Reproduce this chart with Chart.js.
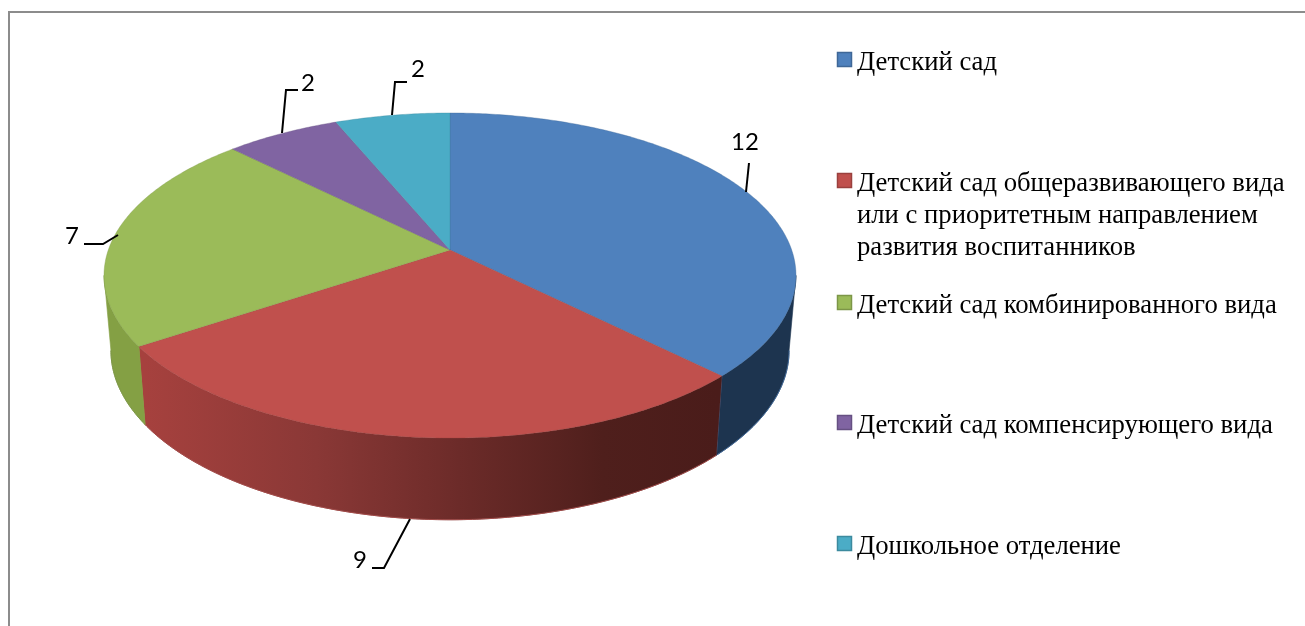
<!DOCTYPE html>
<html><head><meta charset="utf-8">
<style>html,body{margin:0;padding:0;background:#fff}canvas{display:block}</style>
<script src="https://cdn.jsdelivr.net/npm/chart.js@4"></script>
</head><body>
<canvas id="c" width="1305" height="626"></canvas>
<script>
const categories = ["Детский сад",
  "Детский сад общеразвивающего вида\nили с приоритетным направлением\nразвития воспитанников",
  "Детский сад комбинированного вида",
  "Детский сад компенсирующего вида",
  "Дошкольное отделение"];
const values = [12, 9, 7, 2, 2];
const topColors = ["#4f81bd", "#c0504d", "#9bbb59", "#8064a2", "#4bacc6"];
const markerEdges = ["#3f6797", "#9a403e", "#7c9647", "#665082", "#3c8a9e"];

// layout only
const PERSP = 0.157, TOP_Y = 0.4639, BOT_Y = 0.4829, BOT_X = 0.98, BOT_DROP = 74;
const wallFrom = 99, wallTo = 261;
const legendY = [62, 183, 305, 425, 546];
const legendLineH = 32;
const leaders = [
  {pts:[[746,192],[749,163]], lx:745, ly:142},
  {pts:[[410,519],[384,568],[372,568]], lx:360, ly:560},
  {pts:[[118,235],[103,244],[84,244]], lx:72, ly:236},
  {pts:[[282,133],[286,90],[298,90]], lx:308, ly:83},
  {pts:[[392,115],[395,82],[407,82]], lx:418, ly:69}
];

function proj(a, th, bottom) {
  const u = Math.sin(th), v = -Math.cos(th), w = 1 / (1 - PERSP * v), R = a.outerRadius;
  return bottom
    ? [a.x + BOT_X * R * u * w, a.y + BOT_DROP + BOT_Y * R * v * w]
    : [a.x + R * u * w, a.y + TOP_Y * R * v * w];
}
function arcPts(a, t0, t1, bottom) {
  const n = Math.max(2, Math.ceil(Math.abs(t1 - t0) * 90)), out = [];
  for (let i = 0; i <= n; i++) out.push(proj(a, t0 + (t1 - t0) * i / n, bottom));
  return out;
}
function trace(ctx, pts) {
  ctx.beginPath();
  pts.forEach((p, i) => i ? ctx.lineTo(p[0], p[1]) : ctx.moveTo(p[0], p[1]));
  ctx.closePath();
}
const rad = d => d * Math.PI / 180;

const pie3d = {
  id: 'pie3d',
  beforeDatasetDraw(chart, args) {
    const ctx = chart.ctx, arcs = args.meta.data;
    ctx.save();
    // outer walls
    const redGrad = ctx.createLinearGradient(145, 0, 717, 0);
    redGrad.addColorStop(0, '#a6413e');
    redGrad.addColorStop(0.3, '#8a3836');
    redGrad.addColorStop(0.55, '#6c2b29');
    redGrad.addColorStop(0.8, '#4f1f1c');
    redGrad.addColorStop(1, '#4a1c1a');
    const wallFill = ['#1d344f', redGrad, '#84a044', '#5e4a78', '#37808f'];
    const rims = ['#3f6797', '#a04a48', '#7c9647', '#665082', '#3c8a9e'];
    arcs.forEach((a, i) => {
      const s = Math.max(a.startAngle + Math.PI / 2, rad(wallFrom));
      const e = Math.min(a.endAngle + Math.PI / 2, rad(wallTo));
      if (e <= s) return;
      const pts = arcPts(a, s, e, false).concat(arcPts(a, e, s, true));
      trace(ctx, pts);
      ctx.fillStyle = wallFill[i];
      ctx.fill();
      ctx.strokeStyle = wallFill[i];
      ctx.lineWidth = 0.6;
      ctx.stroke();
      const rim = arcPts(a, s, e, true);
      ctx.beginPath();
      rim.forEach((p, j) => j ? ctx.lineTo(p[0], p[1]) : ctx.moveTo(p[0], p[1]));
      ctx.strokeStyle = rims[i]; ctx.lineWidth = 1; ctx.stroke();
      const p = proj(a, e, false), q = proj(a, e, true);
      if (e < rad(wallTo) - 0.001) {
        ctx.beginPath(); ctx.moveTo(p[0], p[1]); ctx.lineTo(q[0], q[1]);
        ctx.strokeStyle = i === 0 ? '#4a74a8' : (i === 1 ? '#8f9a4a' : '#7c9647');
        ctx.lineWidth = 1; ctx.stroke();
      }
    });
    // top faces
    arcs.forEach((a, i) => {
      const s = a.startAngle + Math.PI / 2, e = a.endAngle + Math.PI / 2;
      const pts = [[a.x, a.y]].concat(arcPts(a, s, e, false));
      trace(ctx, pts);
      ctx.fillStyle = topColors[i];
      ctx.fill();
      ctx.globalAlpha = 0.45;
      ctx.strokeStyle = markerEdges[i];
      ctx.lineWidth = 0.8;
      ctx.stroke();
      ctx.globalAlpha = 1;
    });
    ctx.restore();
    return false;
  },
  afterDraw(chart) {
    const ctx = chart.ctx;
    ctx.save();
    // frame
    ctx.strokeStyle = '#8c8c8c'; ctx.lineWidth = 2;
    ctx.beginPath(); ctx.moveTo(9, 626); ctx.lineTo(9, 12); ctx.lineTo(1305, 12); ctx.stroke();
    // leaders and value labels
    const vals = chart.data.datasets[0].data;
    ctx.strokeStyle = '#000'; ctx.lineWidth = 2; ctx.lineJoin = 'miter';
    ctx.fillStyle = '#000'; ctx.textAlign = 'center'; ctx.textBaseline = 'middle';
    ctx.font = '24px Lato';
    leaders.forEach((l, i) => {
      ctx.beginPath();
      l.pts.forEach((p, j) => j ? ctx.lineTo(p[0], p[1]) : ctx.moveTo(p[0], p[1]));
      ctx.stroke();
      ctx.fillText(String(vals[i]), l.lx, l.ly);
    });
    // legend
    ctx.textAlign = 'left';
    ctx.font = '26.7px "Liberation Serif"';
    chart.data.labels.forEach((lab, i) => {
      const y = legendY[i];
      ctx.fillStyle = topColors[i];
      ctx.fillRect(837.5, y - 9.5, 14, 14);
      ctx.strokeStyle = markerEdges[i]; ctx.lineWidth = 1.5;
      ctx.strokeRect(837.5, y - 9.5, 14, 14);
      ctx.fillStyle = '#000';
      lab.split('\n').forEach((t, j) => ctx.fillText(t, 857, y + 1 + j * legendLineH));
    });
    ctx.restore();
  }
};

new Chart(document.getElementById('c'), {
  type: 'pie',
  data: { labels: categories, datasets: [{ data: values, backgroundColor: topColors, borderWidth: 0, radius: 341.7 }] },
  options: {
    responsive: false, animation: false, devicePixelRatio: 1,
    layout: { padding: { left: 0, top: 0, right: 405, bottom: 126 } },
    plugins: { legend: { display: false }, tooltip: { enabled: false } }
  },
  plugins: [pie3d]
});
</script>
</body></html>
